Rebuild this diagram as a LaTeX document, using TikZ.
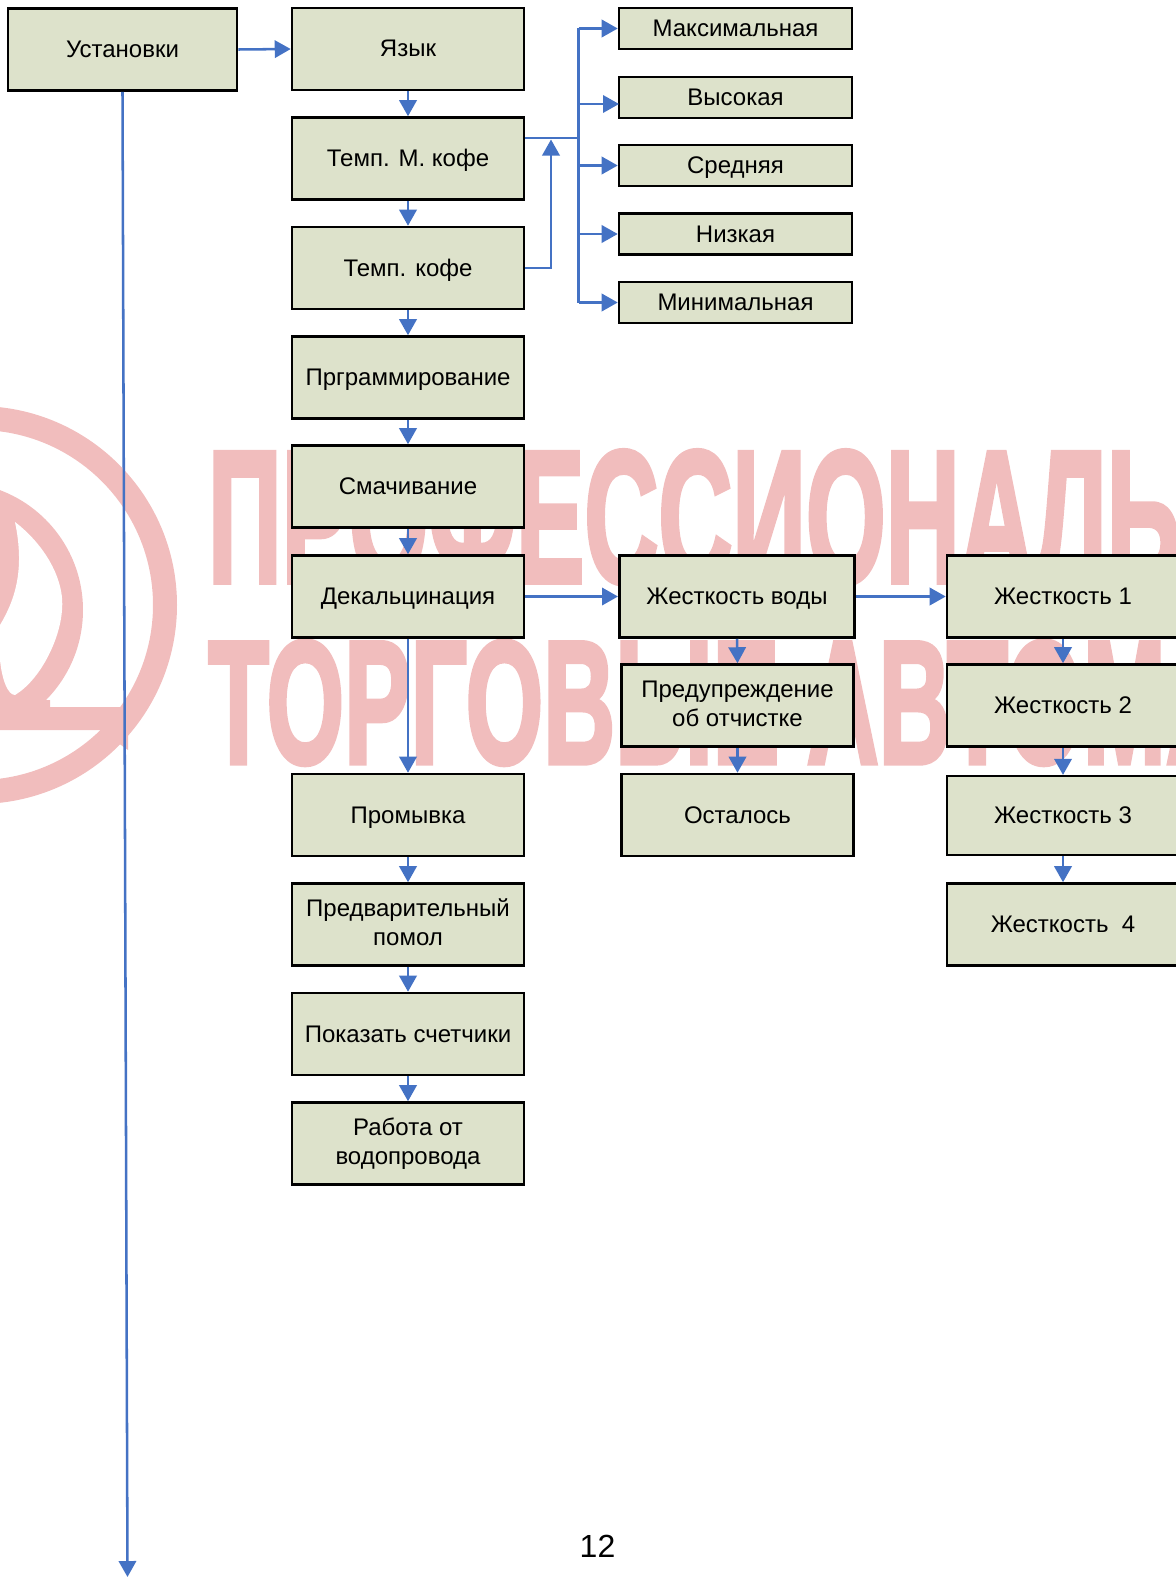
\documentclass[tikz,border=0pt]{standalone}
\usepackage{fontspec}
\setmainfont{Liberation Sans}
\newfontface\wmfont[FakeBold=3]{Liberation Sans Bold}
\usetikzlibrary{arrows.meta}
\definecolor{boxfill}{HTML}{DDE2CB}
\definecolor{flowblue}{HTML}{4472C4}
\definecolor{wmred}{HTML}{F1BDBD}
\newcommand\boxstrut{\rule[-4.875pt]{0pt}{21.75pt}}
\newcommand\lowline[1]{\raisebox{-1.5pt}{#1}}
\tikzset{
  menubox/.style={draw=black,line width=1.9pt,fill=boxfill,minimum width=174pt,minimum height=61.5pt,
    inner sep=0pt,align=center,font=\fontsize{18}{21.75}\selectfont,
    execute at begin node=\boxstrut,execute at end node=\boxstrut},
  valuebox/.style={menubox,minimum width=174.75pt,minimum height=30.75pt},
  flowline/.style={draw=flowblue,line width=1.9pt},
  flowarrow/.style={flowline,-{Stealth[length=12pt,width=13pt,inset=0pt]}},
  wmtext/.style={text=wmred,inner sep=0pt,anchor=base west,font=\fontsize{141}{141}\wmfont},
}
\begin{document}
\begin{tikzpicture}[x=.75pt,y=-.75pt]
  \clip (0,0) rectangle (1176,1577);

  % Водяной знак
  \draw[wmred,line width=18pt] (-22,605) circle[radius=187];
  \fill[wmred] (-45,610) circle[radius=128];
  \fill[white] (15,522) .. controls (45,545) and (65,580) .. (62,610)
    .. controls (60,640) and (40,680) .. (15,695) .. controls (8,695) and (2,680) .. (0,660)
    -- (0,625) .. controls (15,600) and (25,570) .. (15,522);
  \fill[wmred] (0,700) -- (50,700) -- (50,707) -- (128,707) -- (128,750) -- (100,730) -- (0,730) -- cycle;
  \node[wmtext,xscale=.545] (wmtop) at (208,582) {ПРОФЕССИОНАЛЬНЫЕ};
  \node[wmtext,xscale=.53,yscale=.93] (wmbottom) at (208,763) {ТОРГОВЫЕ АВТОМАТЫ};

  % Столбец меню
  \node[menubox,minimum width=171.75pt] (setup) at (122.5,49.5) {Установки};
  \node[menubox] (lang) at (408,49) {Язык};
  \node[menubox] (tempm) at (408,158.5) {Темп. М. кофе};
  \node[menubox] (temp) at (408,268) {Темп. кофе};
  \node[menubox] (prog) at (408,377.5) {Прграммирование};
  \node[menubox] (wet) at (408,486.5) {Смачивание};
  \node[menubox] (decal) at (408,596.5) {Декальцинация};
  \node[menubox] (rinse) at (408,815) {Промывка};
  \node[menubox] (pregrind) at (408,924.5) {\lowline{Предварительный}\\\lowline{помол}};
  \node[menubox] (counters) at (408,1034) {Показать счетчики};
  \node[menubox] (mains) at (408,1143.5) {\lowline{Работа от}\\\lowline{водопровода}};

  % Значения температуры
  \node[valuebox] (vmax) at (735.5,28.5) {Максимальная};
  \node[valuebox] (vhigh) at (735.5,97.5) {Высокая};
  \node[valuebox] (vmid) at (735.5,165.5) {Средняя};
  \node[valuebox] (vlow) at (735.5,234) {Низкая};
  \node[valuebox] (vmin) at (735.5,302.5) {Минимальная};

  % Жесткость
  \node[menubox,minimum width=176.6pt] (hardness) at (737,596.5) {Жесткость воды};
  \node[menubox] (warn) at (737.5,705.5) {\lowline{Предупреждение}\\\lowline{об отчистке}};
  \node[menubox] (remain) at (737.5,815) {Осталось};
  \node[menubox] (hardone) at (1063,596.5) {Жесткость 1};
  \node[menubox] (hardtwo) at (1063,705.5) {Жесткость 2};
  \node[menubox,minimum height=59pt] (hardthree) at (1063,815.5) {Жесткость 3};
  \node[menubox] (hardfour) at (1063,924.5) {Жесткость\ \ 4};

  \node[inner sep=0pt,font=\fontsize{24}{24}\selectfont] (pagenum) at (597.5,1546.5) {12};

  % Точки соединений
  \coordinate (trunk) at (578.5,138);
  \coordinate (risertop) at (551,139.5);
  \coordinate (highend) at (619,104);
  \coordinate (bottomend) at (127.5,1577);

  % Стрелки
  \draw[flowarrow] (setup.east) -- (lang.west);
  \draw[flowarrow] (setup.south) -- (bottomend);
  \foreach \from/\to in {lang/tempm,tempm/temp,temp/prog,prog/wet,wet/decal,decal/rinse,rinse/pregrind,
      pregrind/counters,counters/mains,hardness/warn,warn/remain,hardone/hardtwo,hardtwo/hardthree,hardthree/hardfour}
    \draw[flowarrow] (\from.south) -- (\to.north);
  \draw[flowarrow] (decal.east) -- (hardness.west);
  \draw[flowarrow] (hardness.east) -- (hardone.west);

  \draw[flowline] (tempm.east |- trunk) -- (trunk);
  \draw[flowarrow] (temp.east) -| (risertop);
  \draw[flowline] (vmax.west -| trunk) -- (vmin.west -| trunk);
  \foreach \to in {vmax,vmid,vlow,vmin}
    \draw[flowarrow] (\to.west -| trunk) -- (\to.west);
  \draw[flowarrow] (highend -| trunk) -- (highend);
\end{tikzpicture}
\end{document}
